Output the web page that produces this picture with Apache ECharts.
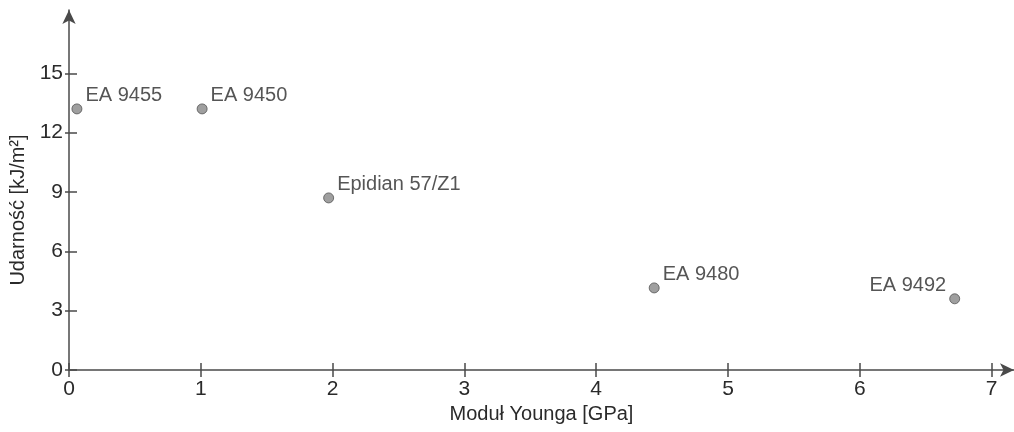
<!DOCTYPE html>
<html>
<head>
<meta charset="utf-8">
<script src="https://cdn.jsdelivr.net/npm/echarts@6/dist/echarts.min.js"></script>
<style>
    html, body { margin: 0; padding: 0; background: #fff; }
    #chart { width: 1014px; height: 432px; }
</style>
</head>
<body>
<div id="chart"></div>
<script>
// material names and their measured values
var names = ["EA 9455", "EA 9450", "Epidian 57/Z1", "EA 9480", "EA 9492"];
var youngModulus = [0.06, 1.01, 1.97, 4.44, 6.72];   // GPa
var impactStrength = [13.2, 13.2, 8.7, 4.15, 3.6]; // kJ/m2

var xTicks = [0, 1, 2, 3, 4, 5, 6, 7];
var yTicks = [0, 3, 6, 9, 12, 15];

var axisColor = "#4a4a4a";
var textColor = "#2a2a2a";
var font = "Liberation Sans, Arial, sans-serif";

var points = names.map(function (n, i) {
    var onLeft = youngModulus[i] > 6;
    return {
        name: n,
        value: [youngModulus[i], impactStrength[i]],
        label: {
            position: onLeft ? "left" : "right",
            distance: 3,
            offset: [0, -13],
        },
    };
});

var chart = echarts.init(document.getElementById("chart"));
chart.setOption({
    backgroundColor: "#fff",
    animation: false,
    grid: {
        left: 69,
        right: 0,
        top: 10,
        bottom: 62,
    },
    xAxis: [
        {
            type: "value",
            min: 0,
            max: 7.17,
            name: "Moduł Younga [GPa]",
            nameLocation: "middle",
            nameGap: 30,
            nameTextStyle: {
                color: textColor,
                fontSize: 20,
                fontFamily: font,
            },
            splitLine: { show: false },
            axisLine: {
                lineStyle: { color: axisColor, width: 1.5 },
                symbol: ["none", "arrow"],
                symbolSize: [10, 14],
            },
            axisTick: {
                inside: true,
                length: 7,
                customValues: xTicks,
                lineStyle: { color: axisColor, width: 1.5 },
            },
            axisLabel: {
                customValues: xTicks,
                margin: 9,
                color: textColor,
                fontSize: 21,
                fontFamily: font,
            },
        },
        {
            // ticks below the axis line
            type: "value",
            position: "bottom",
            min: 0,
            max: 7.17,
            splitLine: { show: false },
            axisLine: { show: false },
            axisTick: {
                length: 7,
                customValues: xTicks,
                lineStyle: { color: axisColor, width: 1.5 },
            },
            axisLabel: { show: false },
        },
    ],
    yAxis: [
        {
            type: "value",
            min: 0,
            max: 18.2,
            name: "Udarność [kJ/m²]",
            nameLocation: "middle",
            nameGap: 40,
            nameTextStyle: {
                color: textColor,
                fontSize: 20,
                fontFamily: font,
                padding: [0, 40, 0, 0],
            },
            splitLine: { show: false },
            axisLine: {
                lineStyle: { color: axisColor, width: 1.5 },
                symbol: ["none", "arrow"],
                symbolSize: [10, 14],
            },
            axisTick: {
                inside: true,
                length: 8,
                customValues: yTicks,
                lineStyle: { color: axisColor, width: 1.5 },
            },
            axisLabel: {
                customValues: yTicks,
                margin: 6,
                color: textColor,
                fontSize: 21,
                fontFamily: font,
            },
        },
        {
            // short ticks left of the axis line
            type: "value",
            position: "left",
            min: 0,
            max: 18.2,
            splitLine: { show: false },
            axisLine: { show: false },
            axisTick: {
                length: 4,
                customValues: yTicks,
                lineStyle: { color: axisColor, width: 1.5 },
            },
            axisLabel: { show: false },
        },
    ],
    series: [
        {
            type: "scatter",
            symbolSize: 10,
            itemStyle: {
                color: "#878787",
                borderColor: "#555",
                borderWidth: 1,
            },
            label: {
                show: true,
                formatter: "{b}",
                color: textColor,
                fontSize: 20,
                fontFamily: font,
            },
            data: points,
        },
    ],
});
</script>
</body>
</html>
